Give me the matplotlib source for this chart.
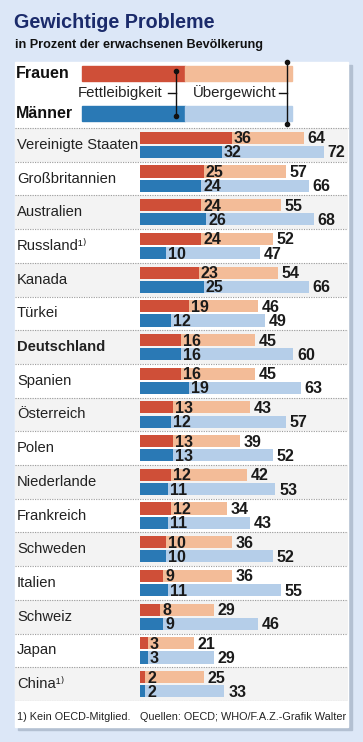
import numpy as np
import matplotlib.pyplot as plt
from matplotlib.patches import Rectangle

countries = ['Vereinigte Staaten', 'Großbritannien', 'Australien', 'Russland¹⁾',
             'Kanada', 'Türkei', 'Deutschland', 'Spanien', 'Österreich', 'Polen',
             'Niederlande', 'Frankreich', 'Schweden', 'Italien', 'Schweiz',
             'Japan', 'China¹⁾']
women_obese = [36, 25, 24, 24, 23, 19, 16, 16, 13, 13, 12, 12, 10, 9, 8, 3, 2]
women_over = [64, 57, 55, 52, 54, 46, 45, 45, 43, 39, 42, 34, 36, 36, 29, 21, 25]
men_obese = [32, 24, 26, 10, 25, 12, 16, 19, 12, 13, 11, 11, 10, 11, 9, 3, 2]
men_over = [72, 66, 68, 47, 66, 49, 60, 63, 57, 52, 53, 43, 52, 55, 46, 29, 33]

bg = '#dce7f7'
red_dark = '#cf4f38'
red_light = '#f3bc98'
blue_dark = '#2a79b5'
blue_light = '#b5cee9'
navy = '#1b2b6b'
txt = '#222222'
font = ['Liberation Sans', 'DejaVu Sans']

W, H = 363, 742
fig = plt.figure(figsize=(W / 100, H / 100), dpi=100)
fig.patch.set_facecolor(bg)

# overlay in pixel coordinates
ov = fig.add_axes([0, 0, 1, 1])
ov.set_xlim(0, W)
ov.set_ylim(H, 0)
ov.axis('off')

# panel with shadow
ov.add_patch(Rectangle((18, 65), 334, 665, color='#b3c0d2', zorder=0))
ov.add_patch(Rectangle((15, 62), 333, 665, color='white', zorder=1))

ov.text(14, 22, 'Gewichtige Probleme', fontsize=14.2, fontweight='bold',
        color=navy, va='center', family=font)
ov.text(15, 45, 'in Prozent der erwachsenen Bevölkerung', fontsize=9.1,
        fontweight='bold', color='#111111', va='center', family=font)

# legend
ov.text(16, 73, 'Frauen', fontsize=11.5, fontweight='bold', color='#111111',
        va='center', family=font)
ov.text(16, 114, 'Männer', fontsize=11.5, fontweight='bold', color='#111111',
        va='center', family=font)
ov.add_patch(Rectangle((82, 66), 103, 15, color=red_dark, zorder=2))
ov.add_patch(Rectangle((185, 66), 107, 15, color=red_light, zorder=2))
ov.add_patch(Rectangle((82, 106), 103, 15, color=blue_dark, zorder=2))
ov.add_patch(Rectangle((185, 106), 107, 15, color=blue_light, zorder=2))
ov.text(78, 93, 'Fettleibigkeit', fontsize=10.8, color=txt, va='center', family=font)
ov.text(193, 93, 'Übergewicht', fontsize=10.8, color=txt, va='center', family=font)
ov.plot([176, 176], [71, 116], color='#111111', lw=1, zorder=3,
        marker='o', ms=3)
ov.plot([168, 176], [93, 93], color='#111111', lw=1, zorder=3)
ov.plot([287, 287], [62, 124], color='#111111', lw=1, zorder=3,
        marker='o', ms=3)
ov.plot([279, 287], [93, 93], color='#111111', lw=1, zorder=3)

ov.text(17, 717, '1) Kein OECD-Mitglied.', fontsize=7.8, color=txt,
        va='center', family=font)
ov.text(346, 717, 'Quellen: OECD; WHO/F.A.Z.-Grafik Walter', fontsize=7.8,
        color=txt, va='center', ha='right', family=font)

# bar axes: spans panel width, value 0 at x=140 px
ppu = 2.556
left, right = 15, 348
top, bottom = 128, 701
ax = fig.add_axes([left / W, 1 - bottom / H, (right - left) / W, (bottom - top) / H])
ax.set_xlim(-(140 - left) / ppu, (right - 140) / ppu)
n = len(countries)
ax.set_ylim(n, 0)
ax.axis('off')
ax.patch.set_alpha(0)

y = np.arange(n)
for i in range(n):
    if i % 2 == 0:
        ax.axhspan(i, i + 1, color='#f3f3f3', zorder=0, lw=0)
for i in range(n + 1):
    ax.axhline(i, color='#9a9a9a', lw=0.8, ls=(0, (1, 1.2)), zorder=1)
ov.plot([15, 348], [128, 128], color='#9a9a9a', lw=0.8, ls=(0, (1, 1.2)), zorder=3)

yw = y + 0.29
ym = y + 0.71
h = 0.36
ax.barh(yw, women_over, height=h, color=red_light, zorder=2)
ax.barh(yw, women_obese, height=h, color=red_dark, zorder=3)
ax.barh(ym, men_over, height=h, color=blue_light, zorder=2)
ax.barh(ym, men_obese, height=h, color=blue_dark, zorder=3)

lab = dict(fontsize=11.5, fontweight='bold', color='#1a1a1a', va='center',
           family=font, zorder=4)
for i in range(n):
    ax.text(women_obese[i] + 0.8, yw[i] + 0.03, str(women_obese[i]), **lab)
    ax.text(women_over[i] + 1.5, yw[i] + 0.03, str(women_over[i]), **lab)
    ax.text(men_obese[i] + 0.8, ym[i] + 0.03, str(men_obese[i]), **lab)
    ax.text(men_over[i] + 1.5, ym[i] + 0.03, str(men_over[i]), **lab)
    ax.text(-(140 - 17) / ppu, i + 0.5, countries[i], fontsize=10.6,
            fontweight='bold' if countries[i] == 'Deutschland' else 'normal',
            color=txt, va='center', family=font)

fig.savefig('out.png', dpi=100, facecolor=bg)
